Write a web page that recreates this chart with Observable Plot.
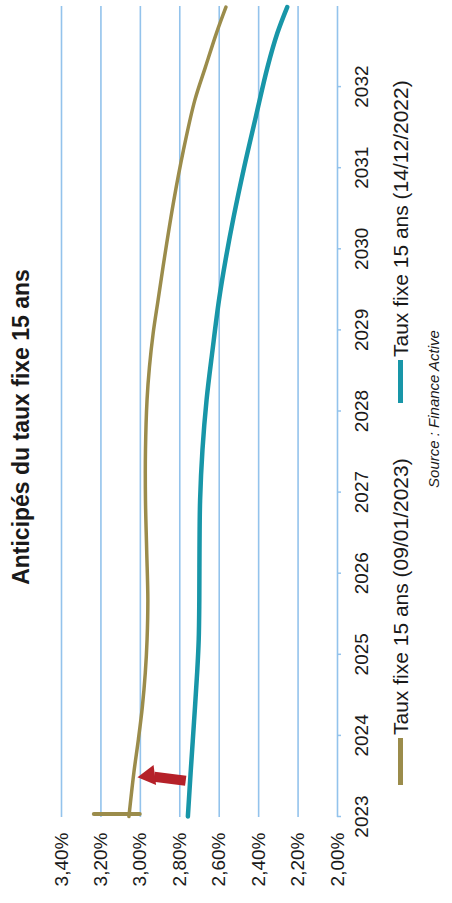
<!DOCTYPE html>
<html>
<head>
<meta charset="utf-8">
<script src="https://cdn.jsdelivr.net/npm/d3@7"></script>
<script src="https://cdn.jsdelivr.net/npm/@observablehq/plot@0.6"></script>
<style>
  html, body { margin: 0; padding: 0; width: 452px; height: 903px; overflow: hidden; background: #fff; }
  #rot { position: absolute; left: 0; top: 0; width: 903px; height: 452px; transform-origin: 0 0;
         transform: translateY(903px) rotate(-90deg); background: #fff;
         font-family: "Liberation Sans", Arial, sans-serif; color: #1a1a1a; }
  .abs { position: absolute; white-space: nowrap; }
  #title { font-weight: bold; font-size: 23px; line-height: 23px; top: 10px; left: 476px; transform: translateX(-50%); }
  .leg { font-size: 21px; line-height: 21px; top: 390px; }
  .sw { position: absolute; height: 5px; top: 398px; }
  #source { font-style: italic; font-size: 15px; line-height: 15px; top: 426px; left: 494px; transform: translateX(-50%); }
</style>
</head>
<body>
<div id="rot">
  <div id="title" class="abs">Anticipés du taux fixe 15 ans</div>
  <div id="chart" class="abs" style="left:0;top:0"></div>
  <div id="sw1" class="sw" style="left:118px;width:47px"></div>
  <div id="leg1" class="abs leg" style="left:168px"></div>
  <div id="sw2" class="sw" style="left:500px;width:43px"></div>
  <div id="leg2" class="abs leg" style="left:546px"></div>
  <div id="source" class="abs">Source : Finance Active</div>
</div>
<script>
// ---- data ----
const seriesNames = ["Taux fixe 15 ans (09/01/2023)", "Taux fixe 15 ans (14/12/2022)"];
const seriesColors = ["#9b8c4b", "#1896a8"];

// Taux fixe 15 ans (09/01/2023), in %
const oliveYears  = [2023.00, 2023.54, 2023.95, 2024.35, 2024.77, 2025.18, 2025.67, 2026.29, 2026.90, 2027.52, 2028.14, 2028.54, 2028.96, 2029.37, 2029.98, 2030.60, 2031.21, 2031.83, 2032.24, 2032.66, 2032.98];
const oliveValues = [3.058, 3.033, 3.010, 2.990, 2.975, 2.966, 2.962, 2.968, 2.974, 2.974, 2.966, 2.954, 2.935, 2.910, 2.872, 2.830, 2.782, 2.724, 2.670, 2.614, 2.566];
// initial jump of the 09/01/2023 series at the start of 2023
const oliveStartYears  = [2023.03, 2023.03];
const oliveStartValues = [3.236, 3.003];

// Taux fixe 15 ans (14/12/2022), in %
const tealYears  = [2023.00, 2023.54, 2024.16, 2024.77, 2025.18, 2025.67, 2026.29, 2026.90, 2027.52, 2028.14, 2028.75, 2029.37, 2029.86, 2030.39, 2031.00, 2031.62, 2032.24, 2032.66, 2032.98];
const tealValues = [2.759, 2.745, 2.728, 2.712, 2.704, 2.701, 2.700, 2.697, 2.685, 2.664, 2.634, 2.601, 2.568, 2.527, 2.474, 2.415, 2.355, 2.305, 2.255];

// red arrow annotation (tail -> head), in data units
const arrowYears  = [2023.44, 2023.49];
const arrowValues = [2.77, 2.93];
const arrowHeadYear = [2023.502];
const arrowHeadValue = [2.956];

// axes
const xTicks = [2023, 2024, 2025, 2026, 2027, 2028, 2029, 2030, 2031, 2032];
const yTicks = [2.0, 2.2, 2.4, 2.6, 2.8, 3.0, 3.2, 3.4];
const xDomain = [2023, 2033];
const yDomain = [2.0, 3.4];

// ---- build ----
const olive = oliveYears.map((y, i) => ({year: y, value: oliveValues[i]}));
const oliveStart = oliveStartYears.map((y, i) => ({year: y, value: oliveStartValues[i]}));
const teal = tealYears.map((y, i) => ({year: y, value: tealValues[i]}));
const arrowShaft = [{x1: arrowYears[0], y1: arrowValues[0], x2: arrowYears[1], y2: arrowValues[1]}];
const arrowHead = [{year: arrowHeadYear[0], value: arrowHeadValue[0]}];

const gridColor = "#93c3ec";
const fmtPct = d => d.toFixed(2).replace(".", ",") + "%";

const chart = Plot.plot({
  width: 903,
  height: 380,
  marginTop: 61,
  marginBottom: 43,
  marginLeft: 86,
  marginRight: 6,
  style: {fontFamily: '"Liberation Sans", Arial, sans-serif', fontSize: "19px", background: "transparent", color: "#1a1a1a", overflow: "visible"},
  x: {domain: xDomain, label: null},
  y: {domain: yDomain, label: null},
  marks: [
    Plot.gridY(yTicks, {stroke: gridColor, strokeOpacity: 1, strokeWidth: 1.6}),
    Plot.axisY(yTicks, {tickFormat: fmtPct, tickSize: 0, tickPadding: 16, fontSize: 19, fill: "#1a1a1a"}),
    Plot.axisX(xTicks, {tickFormat: d => String(d), tickSize: 4, tickPadding: 13, fontSize: 19, stroke: gridColor, strokeWidth: 1.5, fill: "#1a1a1a"}),
    Plot.line(oliveStart, {x: "year", y: "value", stroke: seriesColors[0], strokeWidth: 4}),
    Plot.line(olive, {x: "year", y: "value", stroke: seriesColors[0], strokeWidth: 3.5, curve: "catmull-rom"}),
    Plot.line(teal, {x: "year", y: "value", stroke: seriesColors[1], strokeWidth: 4.5, curve: "catmull-rom"}),
    Plot.link(arrowShaft, {x1: "x1", y1: "y1", x2: "x2", y2: "y2", stroke: "#b52129", strokeWidth: 10, strokeLinecap: "butt"}),
    Plot.dot(arrowHead, {x: "year", y: "value", symbol: "triangle", r: 7.5, fill: "#b52129", stroke: "none", rotate: -7})
  ]
});
document.getElementById("chart").appendChild(chart);

document.getElementById("leg1").textContent = seriesNames[0];
document.getElementById("leg2").textContent = seriesNames[1];
document.getElementById("sw1").style.background = seriesColors[0];
document.getElementById("sw2").style.background = seriesColors[1];
</script>
</body>
</html>
